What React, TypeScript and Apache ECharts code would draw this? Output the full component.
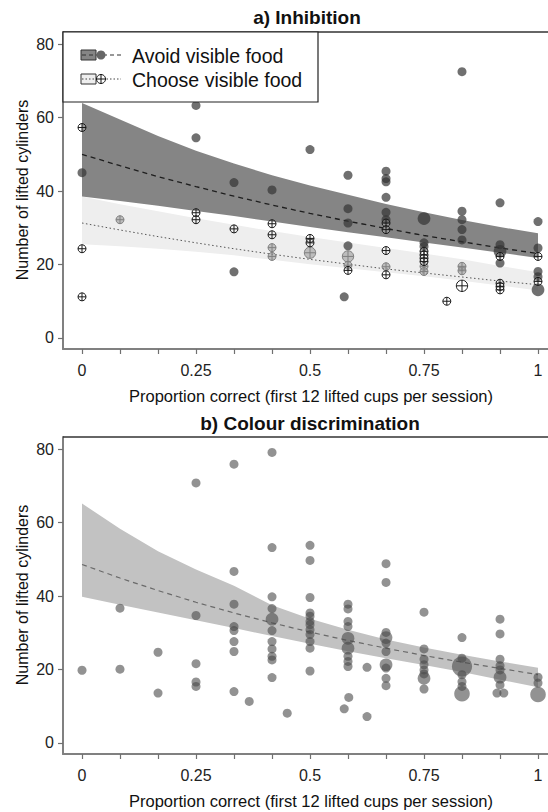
import React, { useEffect, useRef } from "react";
import * as echarts from "echarts";

// ---------- data ----------
const xTickValues = [0, 1 / 12, 2 / 12, 3 / 12, 4 / 12, 5 / 12, 6 / 12, 7 / 12, 8 / 12, 9 / 12, 10 / 12, 11 / 12, 1];
const xTickLabels = [0, 0.25, 0.5, 0.75, 1];
const yTickLabels = [0, 20, 40, 60, 80];

const bandX = [0, 0.0833, 0.1667, 0.25, 0.3333, 0.4167, 0.5, 0.5833, 0.6667, 0.75, 0.8333, 0.9167, 1];

// a) Inhibition – fitted curves
const avoidMean = [50.0, 46.9, 43.9, 41.2, 38.6, 36.2, 33.9, 31.8, 29.8, 27.9, 26.2, 24.5, 23.0];
const avoidUpper = [64.0, 59.5, 55.0, 51.0, 47.5, 44.3, 41.5, 39.0, 36.5, 34.2, 32.1, 30.2, 28.5];
const avoidLower = [38.5, 37.3, 36.0, 34.6, 33.2, 31.7, 30.2, 28.8, 27.4, 26.0, 24.6, 23.2, 21.8];

const chooseMean = [31.3, 29.4, 27.6, 25.9, 24.3, 22.8, 21.4, 20.1, 18.8, 17.7, 16.6, 15.5, 14.5];
const chooseUpper = [38.5, 36.4, 34.5, 32.6, 30.8, 29.1, 27.5, 26.0, 24.5, 23.0, 21.4, 19.6, 17.9];
const chooseLower = [25.5, 25.0, 24.3, 23.5, 22.5, 21.3, 20.1, 19.0, 17.9, 16.8, 15.6, 14.3, 12.9];

// a) Inhibition – observations [proportion, cylinders, sessions]
const avoidPoints = [
  [0, 45, 1],
  [0.25, 63.3, 1], [0.25, 54.5, 1],
  [0.3333, 42.3, 1], [0.3333, 18, 1],
  [0.4167, 40.3, 1],
  [0.5, 51.3, 1],
  [0.575, 11.2, 1],
  [0.5833, 44.3, 1], [0.5833, 35.2, 1], [0.5833, 31.3, 1], [0.5833, 25.1, 1],
  [0.6667, 45.4, 1], [0.6667, 43.4, 1], [0.6667, 42.5, 1], [0.6667, 38.3, 1], [0.6667, 34.2, 1], [0.6667, 32.2, 1],
  [0.75, 32.5, 2], [0.75, 25.9, 1], [0.75, 24.9, 1],
  [0.8333, 72.5, 1], [0.8333, 34.5, 1], [0.8333, 32.2, 1], [0.8333, 29.5, 1], [0.8333, 26.7, 1],
  [0.9167, 36.8, 1], [0.9167, 25.4, 1], [0.9167, 23.6, 2], [0.9167, 20.4, 1],
  [1, 31.7, 1], [1, 24.5, 1], [1, 18.1, 1], [1, 16.7, 1], [1, 13.1, 2],
];
const chooseDarkPoints = [
  [0, 57.3, 1], [0, 24.3, 1], [0, 11.2, 1],
  [0.25, 34.1, 1], [0.25, 32.2, 1],
  [0.3333, 29.7, 1],
  [0.4167, 31.1, 1], [0.4167, 28.1, 1],
  [0.5, 27.1, 1], [0.5, 25.9, 1],
  [0.5833, 18.4, 1],
  [0.6667, 31.3, 1], [0.6667, 29.5, 1], [0.6667, 23.8, 1], [0.6667, 17.2, 1],
  [0.75, 23.6, 1], [0.75, 22.6, 1], [0.75, 21.7, 1], [0.75, 20.8, 1],
  [0.8, 10, 1],
  [0.8333, 14.2, 2],
  [0.9167, 22.2, 1], [0.9167, 14.9, 1], [0.9167, 14.0, 1], [0.9167, 13.1, 1],
  [1, 22.2, 1], [1, 15.4, 1],
];
const chooseLightPoints = [
  [0.0833, 32.2, 1],
  [0.4167, 24.6, 1], [0.4167, 22.2, 1],
  [0.5, 23.2, 2],
  [0.5833, 22.2, 2], [0.5833, 19.8, 1],
  [0.6667, 19.4, 1],
  [0.75, 19.5, 1], [0.75, 18.1, 1],
  [0.8333, 19.5, 1], [0.8333, 18.3, 1],
];

// b) Colour discrimination
const colMean = [48.6, 44.9, 41.5, 38.3, 35.4, 32.7, 30.2, 27.9, 25.8, 23.8, 22.0, 20.3, 18.6];
const colUpper = [65.2, 58.3, 52.2, 47.2, 42.8, 37.5, 33.8, 30.8, 28.2, 26.0, 24.0, 22.2, 20.5];
const colLower = [39.8, 37.6, 35.5, 33.4, 31.3, 29.1, 27.0, 25.0, 23.1, 21.2, 19.3, 17.2, 15.2];

const colourPoints = [
  [0, 19.8, 1],
  [0.0833, 36.7, 1], [0.0833, 20.1, 1],
  [0.1667, 24.7, 1], [0.1667, 13.6, 1],
  [0.25, 70.8, 1], [0.25, 34.7, 1], [0.25, 21.6, 1], [0.25, 16.6, 1], [0.25, 15.4, 1],
  [0.3333, 75.9, 1], [0.3333, 46.7, 1], [0.3333, 37.8, 1], [0.3333, 31.7, 1], [0.3333, 30.6, 1],
  [0.3333, 27.6, 1], [0.3333, 24.9, 1], [0.3333, 14.0, 1],
  [0.3667, 11.3, 1],
  [0.4167, 79.1, 1], [0.4167, 53.2, 1], [0.4167, 39.8, 1], [0.4167, 36.6, 1], [0.4167, 33.7, 2],
  [0.4167, 30.6, 1], [0.4167, 27.6, 1], [0.4167, 25.6, 1], [0.4167, 23.6, 1], [0.4167, 22.6, 1], [0.4167, 17.8, 1],
  [0.45, 8.1, 1],
  [0.5, 53.8, 1], [0.5, 49.7, 1], [0.5, 39.6, 1], [0.5, 35.4, 1], [0.5, 34.5, 1], [0.5, 33.1, 1],
  [0.5, 32.2, 1], [0.5, 30.8, 1], [0.5, 29.5, 1], [0.5, 27.6, 1], [0.5, 25.8, 1], [0.5, 19.6, 1],
  [0.575, 9.3, 1], [0.585, 12.4, 1],
  [0.5833, 37.8, 1], [0.5833, 36.5, 1], [0.5833, 33.1, 1], [0.5833, 31.7, 1], [0.5833, 28.5, 2],
  [0.5833, 25.8, 2], [0.5833, 23.6, 1], [0.5833, 22.2, 1], [0.5833, 20.8, 1],
  [0.625, 20.6, 1], [0.625, 7.2, 1],
  [0.6667, 48.8, 1], [0.6667, 43.7, 1], [0.6667, 30.1, 1], [0.6667, 28.7, 2], [0.6667, 27.2, 1],
  [0.6667, 24.9, 1], [0.6667, 21.3, 2], [0.6667, 20.4, 1], [0.6667, 17.6, 1], [0.6667, 15.6, 1],
  [0.75, 35.6, 1], [0.75, 25.6, 1], [0.75, 22.8, 1], [0.75, 21.3, 1], [0.75, 19.9, 1], [0.75, 18.8, 1],
  [0.75, 17.6, 2], [0.75, 14.7, 1],
  [0.8333, 28.7, 1], [0.8333, 23.1, 1], [0.8333, 20.8, 5], [0.8333, 18.6, 1], [0.8333, 16.7, 1],
  [0.8333, 15.4, 1], [0.8333, 13.4, 3],
  [0.9167, 33.7, 1], [0.9167, 29.7, 1], [0.9167, 22.8, 1], [0.9167, 21.0, 1], [0.9167, 19.9, 1],
  [0.9167, 17.9, 2], [0.9167, 15.8, 1], [0.91, 13.6, 1], [0.925, 13.6, 1],
  [1, 17.9, 1], [1, 16.3, 1], [1, 13.2, 3],
];

const titleA = "a) Inhibition";
const titleB = "b) Colour discrimination";
const xTitle = "Proportion correct (first 12 lifted cups per session)";
const yTitle = "Number of lifted cylinders";
const legendAvoid = "Avoid visible food";
const legendChoose = "Choose visible food";

// ---------- helpers ----------
const FONT = "'Liberation Sans', Arial, sans-serif";
const X_MIN = -0.0417;
const X_MAX = 1.0219;
const Y_MIN = -3;
const Y_MAX = 83.3;

function zip(xs: number[], ys: number[]) {
  return xs.map((x, i) => [x, ys[i]]);
}

function bandSeries(axis: number, lo: number[], hi: number[], color: string, z: number) {
  return {
    type: "custom",
    xAxisIndex: axis,
    yAxisIndex: axis,
    z,
    silent: true,
    data: [[bandX[0], lo[0]]],
    encode: { x: 0, y: 1 },
    renderItem: (_p: any, api: any) => {
      const pts: number[][] = [];
      for (let i = 0; i < bandX.length; i++) pts.push(api.coord([bandX[i], hi[i]]));
      for (let i = bandX.length - 1; i >= 0; i--) pts.push(api.coord([bandX[i], lo[i]]));
      return { type: "polygon", shape: { points: pts }, style: { fill: color } };
    },
  };
}

function lineSeries(axis: number, ys: number[], color: string, dash: number[], width: number, z: number) {
  return {
    type: "line",
    xAxisIndex: axis,
    yAxisIndex: axis,
    z,
    silent: true,
    data: zip(bandX, ys),
    showSymbol: false,
    symbol: "none",
    lineStyle: { color, width, type: dash },
  };
}

function crossSeries(axis: number, data: number[][], fill: string, stroke: string, z: number) {
  return {
    type: "custom",
    xAxisIndex: axis,
    yAxisIndex: axis,
    z,
    silent: true,
    data,
    encode: { x: 0, y: 1 },
    renderItem: (_p: any, api: any) => {
      const c = api.coord([api.value(0), api.value(1)]);
      const r = 4 * Math.sqrt(api.value(2));
      return {
        type: "group",
        children: [
          { type: "circle", shape: { cx: c[0], cy: c[1], r }, style: { fill, stroke, lineWidth: 1 } },
          { type: "line", shape: { x1: c[0] - r, y1: c[1], x2: c[0] + r, y2: c[1] }, style: { stroke, lineWidth: 1 } },
          { type: "line", shape: { x1: c[0], y1: c[1] - r, x2: c[0], y2: c[1] + r }, style: { stroke, lineWidth: 1 } },
        ],
      };
    },
  };
}

function xAxisCfg(grid: number) {
  return {
    type: "value",
    gridIndex: grid,
    min: X_MIN,
    max: X_MAX,
    axisLine: { show: true, onZero: false, lineStyle: { color: "#808080", width: 2 } },
    axisTick: { show: true, length: 5, customValues: xTickValues, lineStyle: { color: "#707070", width: 1.2 } },
    axisLabel: {
      customValues: xTickLabels,
      fontSize: 16,
      fontFamily: FONT,
      color: "#222",
      margin: 13,
      formatter: (v: number) => String(+v.toFixed(2)),
    },
    splitLine: { show: false },
  };
}

function yAxisCfg(grid: number) {
  return {
    type: "value",
    gridIndex: grid,
    min: Y_MIN,
    max: Y_MAX,
    axisLine: { show: true, onZero: false, lineStyle: { color: "#808080", width: 2 } },
    axisTick: { show: true, length: 5, customValues: yTickLabels, lineStyle: { color: "#707070", width: 1.2 } },
    axisLabel: { customValues: yTickLabels, fontSize: 16, fontFamily: FONT, color: "#222", margin: 9 },
    splitLine: { show: false },
  };
}

function txt(x: number, y: number, text: string, size: number, opts: any = {}) {
  return {
    type: "text",
    x,
    y,
    z: 100,
    rotation: opts.rotation || 0,
    style: {
      text,
      fontSize: size,
      fontFamily: FONT,
      fontWeight: opts.bold ? "bold" : "normal",
      fill: "#111",
      textAlign: opts.align || "center",
      textVerticalAlign: "middle",
    },
  };
}

export default function App() {
  const ref = useRef<HTMLDivElement>(null);
  useEffect(() => {
    if (!ref.current) return;
    const chart = echarts.init(ref.current, undefined, { renderer: "svg" });
    const option: any = {
      animation: false,
      backgroundColor: "#fff",
      grid: [
        { left: 63, top: 32, width: 485, height: 317, show: false },
        { left: 63, top: 437, width: 485, height: 317, show: false },
      ],
      xAxis: [xAxisCfg(0), xAxisCfg(1)],
      yAxis: [yAxisCfg(0), yAxisCfg(1)],
      series: [
        bandSeries(0, chooseLower, chooseUpper, "#eeeeee", 1),
        bandSeries(0, avoidLower, avoidUpper, "#858585", 2),
        lineSeries(0, chooseMean, "#555", [1.5, 2.5], 1, 3),
        lineSeries(0, avoidMean, "#1e1e1e", [5, 4], 1.3, 3),
        {
          type: "scatter",
          xAxisIndex: 0,
          yAxisIndex: 0,
          z: 4,
          silent: true,
          data: avoidPoints,
          symbolSize: (v: number[]) => 9 * Math.sqrt(v[2]),
          itemStyle: { color: "#333", opacity: 0.7 },
        },
        crossSeries(0, chooseLightPoints, "rgba(150,150,150,0.55)", "#808080", 5),
        crossSeries(0, chooseDarkPoints, "rgba(255,255,255,0.15)", "#1a1a1a", 6),
        bandSeries(1, colLower, colUpper, "#c2c2c2", 1),
        lineSeries(1, colMean, "#6a6a6a", [5, 4], 1.2, 3),
        {
          type: "scatter",
          xAxisIndex: 1,
          yAxisIndex: 1,
          z: 4,
          silent: true,
          data: colourPoints,
          symbolSize: (v: number[]) => 9 * Math.sqrt(v[2]),
          itemStyle: { color: "#4a4a4a", opacity: 0.6 },
        },
      ],
      graphic: [
        // frame tops
        { type: "line", z: 50, shape: { x1: 63, y1: 32, x2: 548, y2: 32 }, style: { stroke: "#333", lineWidth: 1.5 } },
        { type: "line", z: 50, shape: { x1: 63, y1: 437, x2: 548, y2: 437 }, style: { stroke: "#333", lineWidth: 1.5 } },
        // titles
        txt(307, 17, titleA, 19, { bold: true }),
        txt(310, 423, titleB, 19, { bold: true }),
        txt(311, 396, xTitle, 16.5),
        txt(311, 801, xTitle, 16.5),
        txt(22, 190, yTitle, 16, { rotation: Math.PI / 2 }),
        txt(22, 595, yTitle, 16, { rotation: Math.PI / 2 }),
        // legend
        { type: "rect", z: 60, shape: { x: 63, y: 32, width: 255, height: 70 }, style: { fill: "#fff", stroke: "#222", lineWidth: 1.2 } },
        { type: "rect", z: 61, shape: { x: 81, y: 50, width: 15, height: 10 }, style: { fill: "#858585", stroke: "#333", lineWidth: 1 } },
        { type: "line", z: 62, shape: { x1: 82, y1: 55, x2: 121, y2: 55 }, style: { stroke: "#333", lineWidth: 1.2, lineDash: [4, 3] } },
        { type: "circle", z: 63, shape: { cx: 101, cy: 55, r: 4.5 }, style: { fill: "#666" } },
        { type: "rect", z: 61, shape: { x: 81, y: 74, width: 15, height: 10 }, style: { fill: "#eeeeee", stroke: "#333", lineWidth: 1 } },
        { type: "line", z: 62, shape: { x1: 82, y1: 79, x2: 121, y2: 79 }, style: { stroke: "#444", lineWidth: 1, lineDash: [1.5, 2] } },
        { type: "circle", z: 63, shape: { cx: 101, cy: 79, r: 4.5 }, style: { fill: "#fff", stroke: "#111", lineWidth: 1 } },
        { type: "line", z: 64, shape: { x1: 96.5, y1: 79, x2: 105.5, y2: 79 }, style: { stroke: "#111", lineWidth: 1 } },
        { type: "line", z: 64, shape: { x1: 101, y1: 74.5, x2: 101, y2: 83.5 }, style: { stroke: "#111", lineWidth: 1 } },
        { ...txt(132, 56, legendAvoid, 19.5, { align: "left" }), z: 65 },
        { ...txt(132, 80, legendChoose, 19.5, { align: "left" }), z: 65 },
      ],
    };
    chart.setOption(option);
    return () => chart.dispose();
  }, []);
  return (
    <div
      ref={ref}
      style={{ position: "absolute", left: 0, top: 0, width: 548, height: 812, background: "#fff" }}
    />
  );
}
